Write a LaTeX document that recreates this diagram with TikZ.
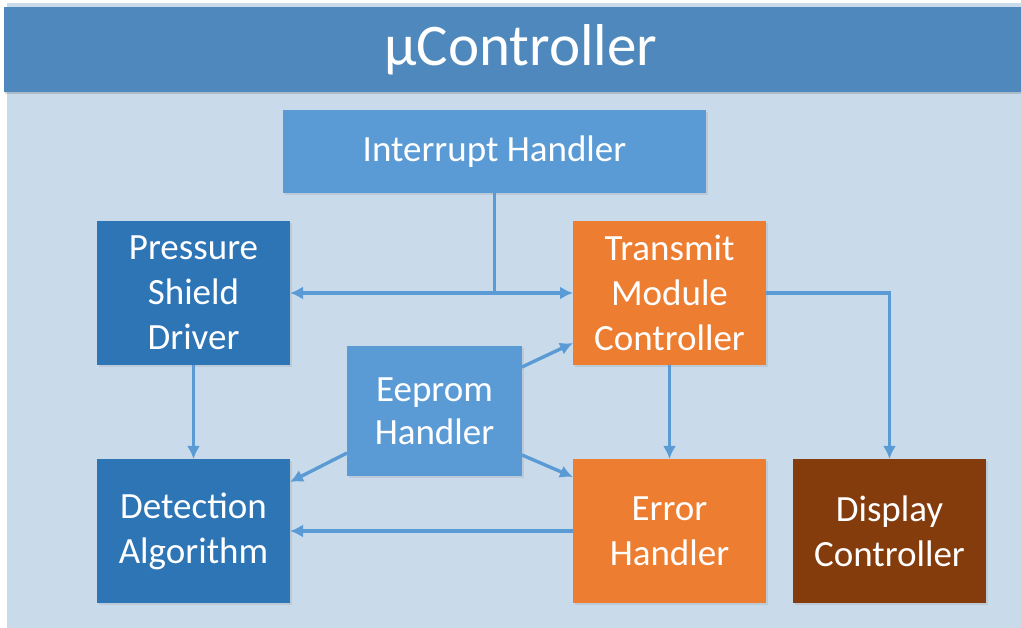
\documentclass[tikz,border=0pt]{standalone}
\usepackage{fontspec}
\setmainfont{Carlito}
\usetikzlibrary{arrows.meta,calc,shadows}
\definecolor{panelbg}{HTML}{C9DBEA}
\definecolor{titlebar}{HTML}{4F88BC}
\definecolor{lightblk}{HTML}{5B9BD5}
\definecolor{darkblk}{HTML}{2E75B6}
\definecolor{orangeblk}{HTML}{ED7D31}
\definecolor{brownblk}{HTML}{843C0C}
\tikzset{
  blk/.style={rectangle, inner sep=0pt, outer sep=0pt, text=white, align=center,
    font=\fontsize{37}{45}\selectfont,
    drop shadow={opacity=0.18, shadow xshift=1.5pt, shadow yshift=-2pt}},
  arr/.style={draw=lightblk, line width=3.4pt, -{Latex[length=13pt,width=13pt]}},
  wire/.style={draw=lightblk, line width=3.4pt},
}
\begin{document}
\begin{tikzpicture}[x=1pt,y=-1pt]
\useasboundingbox (0,0) rectangle (1021,628);
\fill[white] (0,0) rectangle (1021,628);
% background panel and title bar
\fill[panelbg] (7,3) rectangle (1021,628);
\fill[black, opacity=0.15] (5,9) rectangle (1021,94);
\fill[titlebar] (4,7) rectangle (1021,92);
\node[text=white, font=\fontsize{59}{64}\selectfont, inner sep=0pt] (title) at (521,50) {µController};

% blocks
\node[blk, fill=lightblk, minimum width=423pt, minimum height=83pt] (ih) at (494.5,151.5) {Interrupt Handler};
\node[blk, fill=darkblk, minimum width=193pt, minimum height=144pt] (psd) at (193.5,293) {Pressure\\Shield\\Driver};
\node[blk, fill=orangeblk, minimum width=193pt, minimum height=144pt] (tmc) at (669.5,293) {Transmit\\Module\\Controller};
\node[blk, fill=lightblk, minimum width=175pt, minimum height=130pt, font=\fontsize{37}{43}\selectfont] (ee) at (434.5,411) {Eeprom\\Handler};
\node[blk, fill=darkblk, minimum width=193pt, minimum height=144pt] (da) at (193.5,531) {Detection\\Algorithm};
\node[blk, fill=orangeblk, minimum width=193pt, minimum height=144pt] (eh) at (669.5,531) {Error\\Handler};
\node[blk, fill=brownblk, minimum width=193pt, minimum height=144pt] (dc) at (889.5,531) {Display\\Controller};

% connectors
\coordinate (j) at (ih.south |- psd.east);
\draw[wire] (ih.south) -- (j);
\draw[arr] (j) -- (psd.east);
\draw[arr] (j) -- (tmc.west);
\draw[arr] (tmc.east) -| (dc.north);
\draw[arr] (psd.south) -- (da.north);
\draw[arr] (tmc.south) -- (eh.north);
\draw[arr] ($(ee.north east)+(0,21)$) -- ($(tmc.south west)+(0,-22)$);
\draw[arr] ($(ee.south east)+(0,-21)$) -- ($(eh.north west)+(0,18)$);
\draw[arr] ($(ee.south west)+(0,-23)$) -- ($(da.north east)+(0,23)$);
\draw[arr] (eh.west) -- (da.east);
\end{tikzpicture}
\end{document}
